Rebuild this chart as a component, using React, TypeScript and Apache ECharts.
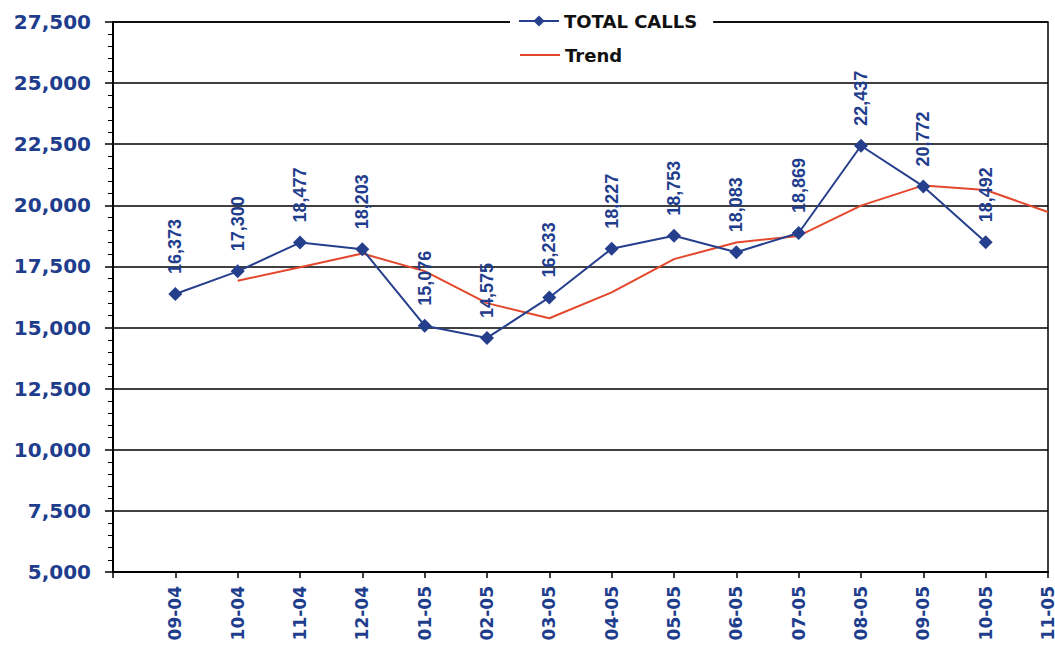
import React, { useEffect, useRef } from "react";
import * as echarts from "echarts";

const categories = ["", "09-04", "10-04", "11-04", "12-04", "01-05", "02-05", "03-05", "04-05", "05-05", "06-05", "07-05", "08-05", "09-05", "10-05", "11-05"];
const totalCalls = [null, 16373, 17300, 18477, 18203, 15076, 14575, 16233, 18227, 18753, 18083, 18869, 22437, 20772, 18492, null];
const trend = [null, null, 16915, 17470, 18030, 17310, 16000, 15380, 16440, 17800, 18480, 18750, 19990, 20815, 20625, 19730];
const yMin = 5000;
const yMax = 27500;
const yStep = 2500;

const fmt = (v: number) => String(v).replace(/\B(?=(\d{3})+(?!\d))/g, ",");

export default function App() {
  const ref = useRef<HTMLDivElement>(null);
  useEffect(() => {
    if (!ref.current) return;
    const chart = echarts.init(ref.current, undefined, { renderer: "svg" });
    const navy = "#263f8c";
    const labelBlue = "#1f3d8d";
    const red = "#e4482c";
    const legendText = { fontFamily: "DejaVu Sans", fontSize: 18, fontWeight: "bold", color: "#111" };
    chart.setOption({
      animation: false,
      backgroundColor: "#fff",
      grid: {
        left: 113,
        right: 7,
        top: 22,
        bottom: 78,
        show: true,
        borderColor: "#000",
        borderWidth: 1.5,
        containLabel: false,
        outerBoundsMode: "none",
      },
      legend: [
        {
          orient: "vertical",
          left: 510,
          top: 8,
          backgroundColor: "#fff",
          padding: [4, 16, 6, 8],
          itemWidth: 40,
          itemHeight: 14,
          itemGap: 6,
          textStyle: legendText,
          data: ["TOTAL CALLS"],
        },
        {
          orient: "vertical",
          left: 512,
          top: 42,
          padding: [4, 12, 4, 8],
          itemWidth: 40,
          itemHeight: 2,
          textStyle: legendText,
          data: [{ name: "Trend", icon: "rect" }],
        },
      ],
      xAxis: {
        type: "category",
        data: categories,
        boundaryGap: false,
        axisLine: { lineStyle: { color: "#000", width: 2 } },
        axisTick: { show: true, alignWithLabel: true, length: 6, lineStyle: { color: "#000", width: 1.5 } },
        axisLabel: {
          rotate: 90,
          interval: 0,
          margin: 14,
          color: labelBlue,
          fontFamily: "DejaVu Sans",
          fontWeight: "bold",
          fontSize: 17,
        },
        splitLine: { show: false },
      },
      yAxis: {
        type: "value",
        min: yMin,
        max: yMax,
        interval: yStep,
        axisLine: { show: true, lineStyle: { color: "#000", width: 2 } },
        axisTick: { show: true, length: 8, lineStyle: { color: "#000", width: 1.5 } },
        minorTick: { show: true, splitNumber: 5, length: 5, lineStyle: { color: "#000", width: 1 } },
        splitLine: { show: true, lineStyle: { color: "#000", width: 1.5 } },
        axisLabel: {
          margin: 22,
          color: labelBlue,
          fontFamily: "DejaVu Sans",
          fontWeight: "bold",
          fontSize: 20,
          formatter: (v: number) => fmt(v),
        },
      },
      series: [
        {
          name: "TOTAL CALLS",
          type: "line",
          data: totalCalls,
          symbol: "diamond",
          symbolSize: 14,
          lineStyle: { color: navy, width: 2 },
          itemStyle: { color: navy },
          label: {
            show: true,
            position: "top",
            rotate: 90,
            align: "left",
            verticalAlign: "middle",
            distance: 13,
            color: labelBlue,
            fontFamily: "Liberation Sans",
            fontWeight: "bold",
            fontSize: 18,
            formatter: (p: any) => fmt(p.value),
          },
          z: 3,
        },
        {
          name: "Trend",
          type: "line",
          data: trend,
          symbol: "none",
          lineStyle: { color: red, width: 2 },
          itemStyle: { color: red },
          z: 2,
        },
      ],
    });
    return () => chart.dispose();
  }, []);
  return (
    <div
      ref={ref}
      style={{ position: "fixed", left: 0, top: 0, width: 1055, height: 650, background: "#fff" }}
    />
  );
}
